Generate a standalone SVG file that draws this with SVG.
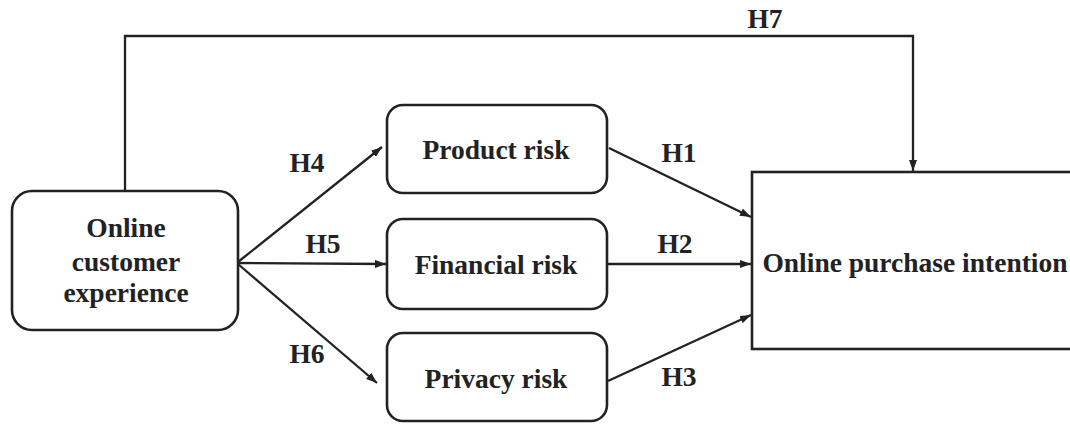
<svg xmlns="http://www.w3.org/2000/svg" width="1070" height="424" viewBox="0 0 1070 424">
<style>
.box{fill:#fff;stroke:#222;stroke-width:2.6}
.t{font-family:"Liberation Serif","Times New Roman",serif;font-weight:bold;font-size:27.5px;fill:#222;text-anchor:middle}
.c{fill:none;stroke:#222;stroke-width:2.3}
</style>
<defs>
<marker id="ah" viewBox="0 0 11 8" refX="11" refY="4" markerWidth="11" markerHeight="8" markerUnits="userSpaceOnUse" orient="auto">
<path d="M0,0 L11,4 L0,8 z" fill="#222"/>
</marker>
</defs>
<rect width="1070" height="424" fill="#fff"/>
<g id="connectors">
<polyline class="c" points="125,191 125,36 913,36 913,171" marker-end="url(#ah)"/>
<line class="c" x1="238" y1="262" x2="382" y2="147" marker-end="url(#ah)"/>
<line class="c" x1="238" y1="263" x2="386" y2="264" marker-end="url(#ah)"/>
<line class="c" x1="238" y1="264" x2="377" y2="383" marker-end="url(#ah)"/>
<line class="c" x1="609" y1="148" x2="751" y2="217" marker-end="url(#ah)"/>
<line class="c" x1="607" y1="264" x2="751" y2="264" marker-end="url(#ah)"/>
<line class="c" x1="608" y1="381" x2="751" y2="315" marker-end="url(#ah)"/>
<text class="t" x="765" y="28">H7</text>
<text class="t" x="307" y="172">H4</text>
<text class="t" x="323" y="253">H5</text>
<text class="t" x="307" y="363">H6</text>
<text class="t" x="679" y="162">H1</text>
<text class="t" x="675" y="253">H2</text>
<text class="t" x="679" y="386">H3</text>
</g>
<g id="node-experience">
<rect class="box" x="12" y="191" width="226" height="139" rx="20"/>
<text class="t" x="126" y="237">Online</text>
<text class="t" x="126" y="271">customer</text>
<text class="t" x="126" y="302">experience</text>
</g>
<g id="node-product">
<rect class="box" x="387" y="105" width="220" height="88" rx="16"/>
<text class="t" x="496" y="159">Product risk</text>
</g>
<g id="node-financial">
<rect class="box" x="387" y="219" width="220" height="90" rx="16"/>
<text class="t" x="496" y="274">Financial risk</text>
</g>
<g id="node-privacy">
<rect class="box" x="387" y="333" width="220" height="88" rx="16"/>
<text class="t" x="496" y="388">Privacy risk</text>
</g>
<g id="node-intention">
<rect class="box" x="752" y="172" width="330" height="177"/>
<text class="t" x="915" y="272">Online purchase intention</text>
</g>
</svg>
